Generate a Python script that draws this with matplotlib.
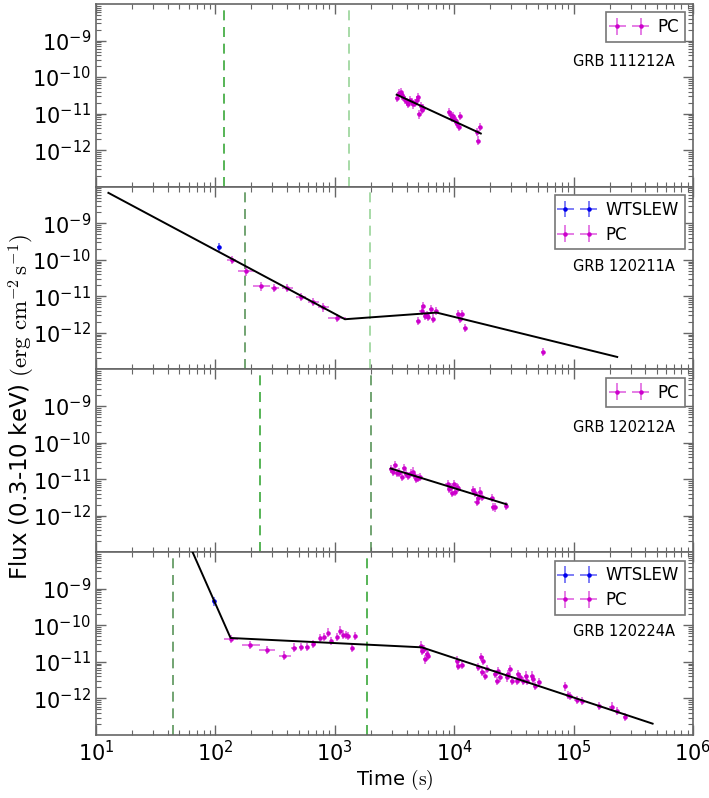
import numpy as np
import matplotlib
matplotlib.use("Agg")
import matplotlib.pyplot as plt
from matplotlib.ticker import FixedLocator, LogLocator, NullFormatter, LogFormatterMathtext

plt.rcParams['mathtext.fontset'] = 'dejavusans'

# ---------------- data ----------------
grb_names = ["GRB 111212A", "GRB 120211A", "GRB 120212A", "GRB 120224A"]

# Panel 1: GRB 111212A
p1_pc_t = [3340, 3470, 3560, 3650, 3750, 3870, 4000, 4130, 4260, 4400, 4550, 4700, 4850, 4940,
           5100, 5240, 5380, 5510, 9100, 9350, 9590, 9840, 10090, 10350, 10620, 10910, 11110,
           15630, 15930, 16340]
p1_pc_f = [2.67e-11, 3.66e-11, 3.9e-11, 3.16e-11, 2.85e-11, 2.4e-11, 2.07e-11, 1.87e-11, 2.4e-11,
           2.07e-11, 1.79e-11, 1.95e-11, 2.3e-11, 2.85e-11, 9.5e-12, 1.58e-11, 1.28e-11, 1.45e-11,
           1.1e-11, 8.9e-12, 7.7e-12, 8.4e-12, 6.8e-12, 6.2e-12, 5.3e-12, 4.3e-12, 8.6e-12,
           3.1e-12, 1.84e-12, 4.3e-12]
p1_fit_t = [3300, 16700]
p1_fit_f = [3.3e-11, 2.86e-12]
p1_vlines = [118, 1306]

# Panel 2: GRB 120211A
p2_wt_t = [107]
p2_wt_f = [2.2e-10]
p2_pc_t = [137, 180, 241, 310, 400, 518, 661, 792, 1035,
           5000, 5330, 5510, 5690, 5870, 6060, 6390, 6690, 7080, 10800, 11170, 11690, 12390, 55700]
p2_pc_f = [9.9e-11, 4.8e-11, 1.87e-11, 1.68e-11, 1.68e-11, 9.7e-12, 7.1e-12, 5.0e-12, 2.6e-12,
           2.1e-12, 4.0e-12, 5.3e-12, 2.9e-12, 3.05e-12, 2.8e-12, 4.45e-12, 2.47e-12, 4.0e-12,
           3.24e-12, 2.47e-12, 3.24e-12, 1.34e-12, 3.0e-13]
p2_pc_tlo = [126, 155, 205, 290, 360, 470, 600, 720, 880]
p2_pc_thi = [150, 210, 285, 340, 450, 575, 740, 900, 1230]
p2_fit_t = [12.7, 1216, 7130, 232000]
p2_fit_f = [6.8e-9, 2.37e-12, 3.6e-12, 2.2e-13]
p2_vlines = [178, 1972]

# Panel 3: GRB 120212A
p3_pc_t = [2940, 3050, 3190, 3300, 3450, 3630, 3800, 3950, 4130, 4320, 4490, 4600, 4790, 5010, 5170,
           8810, 9100, 9340, 9640, 9960, 10220, 10490, 10830,
           14450, 14930, 15410, 15920, 16440, 16980, 20590, 21270, 21970, 26990]
p3_pc_f = [1.87e-11, 1.61e-11, 2.45e-11, 1.45e-11, 1.51e-11, 1.12e-11, 1.99e-11, 1.39e-11, 1.22e-11,
           1.45e-11, 1.61e-11, 1.30e-11, 9.9e-12, 1.06e-11, 1.12e-11,
           7.4e-12, 5.3e-12, 6.2e-12, 4.1e-12, 7.4e-12, 4.55e-12, 6.2e-12, 5.6e-12,
           5.05e-12, 4.3e-12, 2.4e-12, 3.0e-12, 4.55e-12, 3.3e-12, 3.0e-12, 1.76e-12, 1.69e-12, 1.84e-12]
p3_fit_t = [2940, 27500]
p3_fit_f = [1.95e-11, 2.04e-12]
p3_vlines = [237, 2010]

# Panel 4: GRB 120224A
p4_wt_t = [98]
p4_wt_f = [4.5e-10]
p4_pc_t = [135, 195, 269, 378, 455, 518, 581, 661, 752, 812, 872, 929, 1037, 1106, 1180, 1240, 1300,
           1385, 1475,
           5270, 5410, 5590, 5730, 5880, 6070, 10490, 10830, 11560, 15920, 16670, 17100, 17540, 18110,
           18700, 21970, 22680, 23420, 24190, 27510, 28400, 29320, 30280, 33340, 34430, 35560, 37920,
           39930, 41000, 45100, 46000, 47200, 51300, 84700, 90300, 93300, 106000, 117000, 164000,
           208000, 230000, 270000]
p4_pc_f = [4.2e-11, 2.9e-11, 2.1e-11, 1.48e-11, 2.45e-11, 2.6e-11, 2.6e-11, 3.1e-11, 4.5e-11, 4.7e-11,
           6.3e-11, 3.8e-11, 4.7e-11, 7.2e-11, 5.6e-11, 5.5e-11, 5.0e-11, 2.35e-11, 5.2e-11,
           2.79e-11, 2.03e-11, 2.26e-11, 1.17e-11, 1.64e-11, 1.48e-11, 1.08e-11, 7.9e-12, 8.4e-12,
           7.1e-12, 1.33e-11, 5.2e-12, 1.08e-11, 4.2e-12, 6.4e-12, 4.6e-12, 3.05e-12, 5.7e-12, 3.76e-12,
           3.76e-12, 4.6e-12, 6.4e-12, 3.05e-12, 3.05e-12, 4.6e-12, 3.76e-12, 3.05e-12, 4.2e-12,
           3.05e-12, 4.2e-12, 3.4e-12, 2.2e-12, 2.74e-12, 2.13e-12, 1.26e-12, 1.18e-12, 9.0e-13,
           8.6e-13, 6.1e-13, 6.0e-13, 4.6e-13, 3.1e-13]
p4_pc_tlo = [117, 168, 230, 340, 430, 500, 565, 640, 740, 800, 862, 919, 1020, 1096, 1170, 1230, 1290,
             1370, 1460]
p4_pc_thi = [155, 235, 315, 430, 480, 535, 600, 690, 765, 825, 882, 940, 1055, 1116, 1190, 1250, 1310,
             1400, 1490]
p4_fit_t = [60, 134, 5350, 459000]
p4_fit_f = [1.7e-8, 4.5e-11, 2.5e-11, 2.04e-13]
p4_vlines = [44.5, 1862]

yerr_frac = 0.3     # relative size of the vertical error bars
xerr_frac = 0.04    # relative size of horizontal bars for points without a listed time bin

# ---------------- plotting ----------------
fig = plt.figure(figsize=(7.09, 7.98), dpi=100)
left, right = 0.1354, 0.9774
bottom, top = 0.079, 0.995
h = (top - bottom) / 4.0
axes = [fig.add_axes([left, top - (i + 1) * h, right - left, h]) for i in range(4)]

PC_COLOR = '#cc00cc'
WT_COLOR = '#0000ee'
VDARK = '#5a955a'
VLIGHT = '#98d498'
VMED = '#3aa83a'


def err(f):
    f = np.asarray(f, float)
    return np.vstack([f - f / (1 + yerr_frac), f * yerr_frac])


def xerr(t, lo=None, hi=None):
    t = np.asarray(t, float)
    xl = t * xerr_frac
    xh = t * xerr_frac
    if lo is not None:
        n = len(lo)
        xl[:n] = t[:n] - np.asarray(lo, float)
        xh[:n] = np.asarray(hi, float) - t[:n]
    return np.vstack([xl, xh])


def plot_series(ax, t, f, color, label, xe):
    eb = ax.errorbar(t, f, yerr=err(f), xerr=xe, fmt='.', color=color, ms=4.5,
                     ecolor=color, elinewidth=1.3, capsize=0, label=label, zorder=3)
    for coll in eb[2]:
        coll.set_alpha(0.55)
    return eb


def plot_fit(ax, t, f):
    ax.plot(t, f, color='black', lw=1.4, zorder=4)


panels = [
    dict(wt=None, pc=(p1_pc_t, p1_pc_f, None), fit=(p1_fit_t, p1_fit_f), vl=p1_vlines,
         vc=[VMED, VLIGHT], ty=0.683),
    dict(wt=(p2_wt_t, p2_wt_f), pc=(p2_pc_t, p2_pc_f, (p2_pc_tlo, p2_pc_thi)), fit=(p2_fit_t, p2_fit_f),
         vl=p2_vlines, vc=[VDARK, VLIGHT], ty=0.566),
    dict(wt=None, pc=(p3_pc_t, p3_pc_f, None), fit=(p3_fit_t, p3_fit_f), vl=p3_vlines,
         vc=[VMED, VDARK], ty=0.683),
    dict(wt=(p4_wt_t, p4_wt_f), pc=(p4_pc_t, p4_pc_f, (p4_pc_tlo, p4_pc_thi)), fit=(p4_fit_t, p4_fit_f),
         vl=p4_vlines, vc=[VDARK, VMED], ty=0.565),
]

for i, (ax, p) in enumerate(zip(axes, panels)):
    ax.set_xscale('log')
    ax.set_yscale('log')
    ax.set_xlim(10, 1e6)
    ax.set_ylim(1e-13, 1e-8)
    for v, c in zip(p['vl'], p['vc']):
        ax.axvline(v, color=c, ls=(0, (6, 4)), lw=1.2, zorder=1)
    plot_fit(ax, *p['fit'])
    if p['wt'] is not None:
        plot_series(ax, p['wt'][0], p['wt'][1], WT_COLOR, 'WTSLEW', xerr(p['wt'][0]))
    t, f, xr = p['pc']
    xe = xerr(t, *xr) if xr is not None else xerr(t)
    plot_series(ax, t, f, PC_COLOR, 'PC', xe)
    ax.text(0.799, p['ty'], grb_names[i], transform=ax.transAxes, fontsize=10.5,
            ha='left', va='center')
    leg = ax.legend(loc='upper right', numpoints=2, fontsize=12, fancybox=False,
                    framealpha=1, edgecolor='#777777', handlelength=2.0,
                    borderpad=0.35, labelspacing=0.4, handletextpad=0.7,
                    borderaxespad=0.5)
    leg.get_frame().set_linewidth(1.2)

    ax.yaxis.set_major_locator(FixedLocator([1e-12, 1e-11, 1e-10, 1e-9]))
    ax.yaxis.set_major_formatter(LogFormatterMathtext())
    ax.yaxis.set_minor_locator(LogLocator(base=10, subs=np.arange(2, 10), numticks=20))
    ax.yaxis.set_minor_formatter(NullFormatter())
    ax.xaxis.set_major_locator(LogLocator(base=10, numticks=10))
    ax.xaxis.set_minor_locator(LogLocator(base=10, subs=np.arange(2, 10), numticks=20))
    ax.xaxis.set_minor_formatter(NullFormatter())
    ax.tick_params(which='both', direction='in', top=True, right=True, color='#666666')
    ax.tick_params(which='major', length=7, width=1, labelsize=15)
    ax.tick_params(which='minor', length=3.5, width=0.8)
    for s in ax.spines.values():
        s.set_color('#666666')
        s.set_linewidth(1.2)
    if i < 3:
        ax.tick_params(labelbottom=False)

axes[-1].set_xlabel(r'Time $\mathrm{(s)}$', fontsize=14, labelpad=2, math_fontfamily='cm')
fig.text(0.031, 0.49, r'Flux (0.3-10 keV) $\mathrm{(erg\ cm^{-2}\,s^{-1})}$', rotation=90,
         fontsize=16.5, ha='center', va='center', math_fontfamily='cm')

fig.savefig('out.png', dpi=100)
